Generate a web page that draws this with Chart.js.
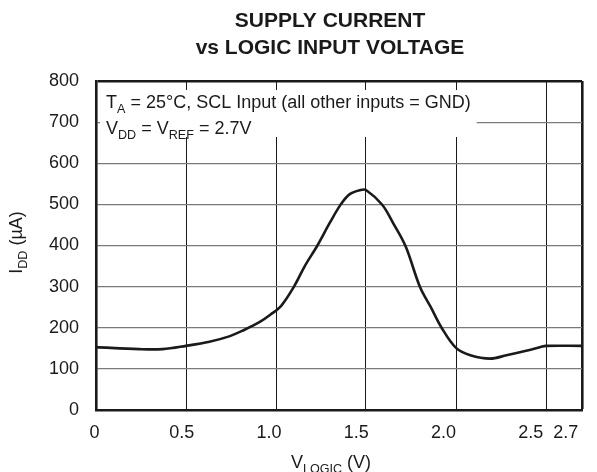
<!DOCTYPE html>
<html>
<head>
<meta charset="utf-8">
<script src="https://cdn.jsdelivr.net/npm/chart.js@4.4.0/dist/chart.umd.min.js"></script>
<style>
  html, body { margin: 0; padding: 0; background: #fff; }
  #wrap { width: 597px; height: 472px; }
</style>
</head>
<body>
<div id="wrap"><canvas id="chart"></canvas></div>
<script>
// supply current curve, I_DD (uA) against V_LOGIC (V)
const vLogic = [0, 0.24, 0.37, 0.5, 0.63, 0.74, 0.82, 0.91, 0.97, 1.03, 1.1, 1.16, 1.23, 1.3, 1.36, 1.41, 1.47, 1.5, 1.59, 1.65, 1.72, 1.8, 1.86, 1.92, 2.0, 2.08, 2.19, 2.28, 2.39, 2.47, 2.5, 2.7];
const iDD    = [153, 148, 148, 156, 166, 179, 194, 214, 232, 254, 300, 350, 400, 456, 500, 525, 535, 535, 499, 455, 398, 299, 250, 200, 151, 133, 125, 133, 144, 153, 156, 156];

const xTicks = [0, 0.5, 1.0, 1.5, 2.0, 2.5, 2.7];
const xTickLabels = ['0', '0.5', '1.0', '1.5', '2.0', '2.5', '2.7'];
const yTicks = [0, 100, 200, 300, 400, 500, 600, 700, 800];

const titleLines = ['SUPPLY CURRENT', 'vs LOGIC INPUT VOLTAGE'];
const noteLine1 = [['T'], ['A', 1], [' = 25°C, SCL Input (all other inputs = GND)']];
const noteLine2 = [['V'], ['DD', 1], [' = V'], ['REF', 1], [' = 2.7V']];
const xTitle = [['V'], ['LOGIC', 1], [' (V)']];
const yTitle = [['I'], ['DD', 1], [' (µA)']];

const FONT = '"Liberation Sans", Arial, Helvetica, sans-serif';
const INK = '#1a1a1a';

// text with subscripts: each part is [text, isSub]
function richWidth(ctx, parts, size) {
  let w = 0;
  parts.forEach(([t, sub]) => {
    ctx.font = (sub ? size * 0.7 : size) + 'px ' + FONT;
    w += ctx.measureText(t).width;
  });
  return w;
}

function drawRich(ctx, parts, x, y, size) {
  ctx.textAlign = 'left';
  ctx.textBaseline = 'alphabetic';
  parts.forEach(([t, sub]) => {
    ctx.font = (sub ? size * 0.7 : size) + 'px ' + FONT;
    ctx.fillText(t, x, sub ? y + size * 0.3 : y);
    x += ctx.measureText(t).width;
  });
}

const notePlugin = {
  id: 'notePlugin',
  beforeDatasetsDraw(chart) {
    const { ctx, chartArea } = chart;
    const size = 18;
    const tx = chartArea.left + 10;
    const w1 = richWidth(ctx, noteLine1, size);
    ctx.save();
    // blank the grid behind the conditions note
    ctx.fillStyle = '#fff';
    ctx.fillRect(chartArea.left + 4, chartArea.top + 9, tx + w1 + 6 - (chartArea.left + 4), 47);
    ctx.fillStyle = INK;
    drawRich(ctx, noteLine1, tx, chartArea.top + 27, size);
    drawRich(ctx, noteLine2, tx, chartArea.top + 53, size);
    ctx.restore();
  },
  afterDraw(chart) {
    const { ctx, chartArea } = chart;
    const xs = chart.scales.x;
    const midX = (chartArea.left + chartArea.right) / 2;
    ctx.save();
    ctx.fillStyle = INK;
    // two-line bold title over the plot
    ctx.font = 'bold 21px ' + FONT;
    ctx.textAlign = 'center';
    ctx.textBaseline = 'middle';
    titleLines.forEach((t, i) => ctx.fillText(t, midX - 9, 21 + i * 27));
    // x tick labels, drawn a little left of their grid lines (more so toward 2.7)
    ctx.font = '18px ' + FONT;
    xTicks.forEach((v, i) => {
      ctx.fillText(xTickLabels[i], xs.getPixelForValue(v) - 1.5 - 5.5 * v, chartArea.bottom + 23);
    });
    // x axis title
    const wx = richWidth(ctx, xTitle, 18);
    drawRich(ctx, xTitle, midX - 8 - wx / 2, 468, 18);
    // y axis title, rotated
    const wy = richWidth(ctx, yTitle, 18);
    ctx.translate(22, (chartArea.top + chartArea.bottom) / 2 - 3);
    ctx.rotate(-Math.PI / 2);
    drawRich(ctx, yTitle, -wy / 2, 0, 18);
    ctx.restore();
  }
};

new Chart(document.getElementById('chart'), {
  type: 'line',
  data: {
    datasets: [{
      data: vLogic.map((v, i) => ({ x: v, y: iDD[i] })),
      borderColor: INK,
      borderWidth: 2.6,
      pointRadius: 0,
      fill: false,
      tension: 0.35
    }]
  },
  options: {
    responsive: true,
    maintainAspectRatio: false,
    animation: false,
    layout: { padding: { left: 0, right: 15, top: 81, bottom: 0 } },
    plugins: {
      legend: { display: false },
      tooltip: { enabled: false },
      title: { display: false }
    },
    scales: {
      x: {
        type: 'linear',
        min: 0,
        max: 2.7,
        afterBuildTicks: (axis) => { axis.ticks = xTicks.map(v => ({ value: v })); },
        afterFit: (axis) => {
          axis.height = 62;
          axis.paddingLeft = 0;
          axis.paddingRight = 0;
        },
        ticks: { display: false },
        grid: {
          drawTicks: false,
          color: INK,
          lineWidth: (c) => (c.tick && c.tick.value === 2.7 ? 2.6 : 1)
        },
        border: { display: true, color: INK, width: 2.6 }
      },
      y: {
        min: 0,
        max: 800,
        afterBuildTicks: (axis) => { axis.ticks = yTicks.map(v => ({ value: v })); },
        afterFit: (axis) => { axis.width = 96; },
        ticks: {
          padding: 17,
          color: INK,
          font: { family: FONT, size: 18 }
        },
        grid: {
          drawTicks: false,
          color: (c) => (c.tick && c.tick.value === 800 ? INK : '#7a7a7a'),
          lineWidth: (c) => (c.tick && c.tick.value === 800 ? 2.6 : 1.2)
        },
        border: { display: true, color: INK, width: 2.6 }
      }
    }
  },
  plugins: [notePlugin]
});
</script>
</body>
</html>
